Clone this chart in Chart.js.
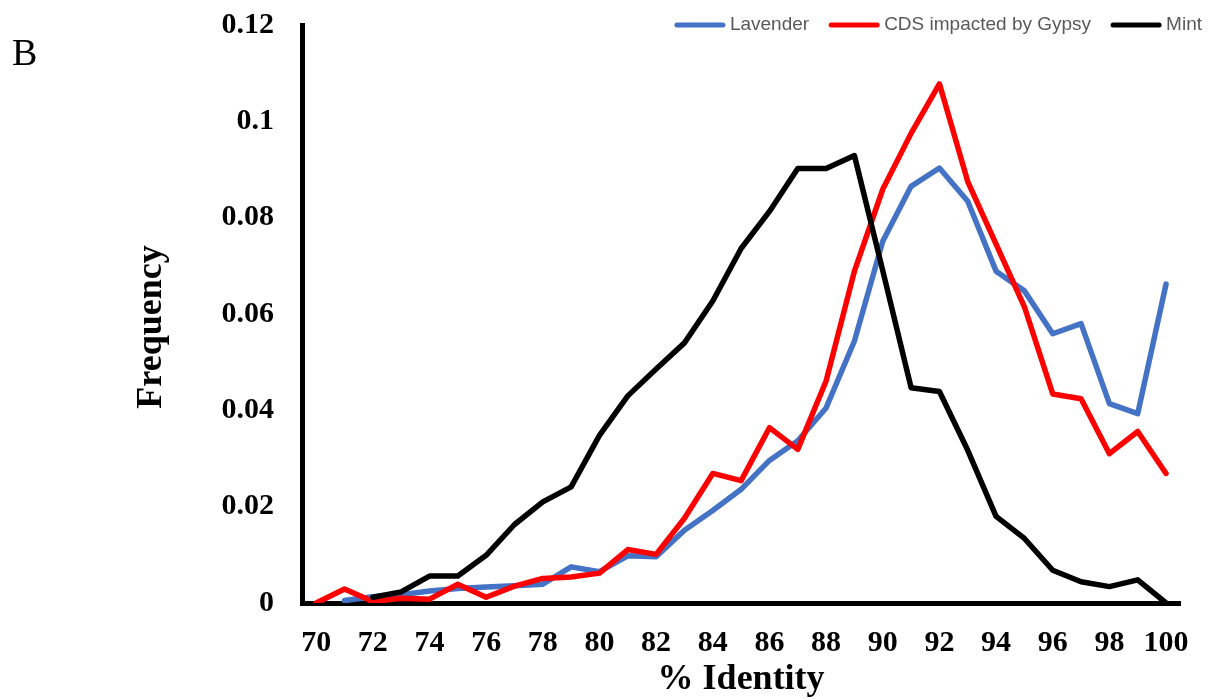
<!DOCTYPE html>
<html>
  <head>
    <title>Identity frequency</title>
    <style>
      body {
        background-color: white;
        margin: 0;
        padding: 0;
      }
    </style>
    <script src="https://cdn.jsdelivr.net/npm/chart.js"></script>
  </head>
  <body>
    <canvas id="identityChart" width="1211" height="700"></canvas>
    <script>
      // % identity categories (x axis)
      const identity = [70, 71, 72, 73, 74, 75, 76, 77, 78, 79, 80, 81, 82, 83, 84, 85,
                        86, 87, 88, 89, 90, 91, 92, 93, 94, 95, 96, 97, 98, 99, 100];

      // frequency values
      const lavender = [null, 0.0005, 0.0013, 0.0017, 0.0025, 0.003, 0.0033, 0.0036, 0.0039, 0.0075,
                        0.0065, 0.0098, 0.0096, 0.0151, 0.0192, 0.0236, 0.0296, 0.0337, 0.0405, 0.0544,
                        0.0751, 0.0865, 0.0903, 0.0834, 0.0689, 0.0648, 0.0559, 0.058, 0.0414, 0.0393, 0.0662];
      const cdsGypsy = [0, 0.0029, 0.0003, 0.001, 0.0008, 0.0039, 0.0012, 0.0035, 0.0051, 0.0054,
                        0.0062, 0.0111, 0.0101, 0.0176, 0.0269, 0.0254, 0.0364, 0.0319, 0.0461, 0.0689,
                        0.0859, 0.0975, 0.1078, 0.0875, 0.0745, 0.0615, 0.0434, 0.0424, 0.031, 0.0356, 0.0269];
      const mint = [null, null, 0.0012, 0.0023, 0.0056, 0.0056, 0.0099, 0.0163, 0.021, 0.0241,
                    0.0348, 0.043, 0.0486, 0.054, 0.0627, 0.0736, 0.0813, 0.0902, 0.0902, 0.0929,
                    0.069, 0.0447, 0.0439, 0.0317, 0.018, 0.0134, 0.0068, 0.0044, 0.0034, 0.0048, 0];

      const yTicks = [0, 0.02, 0.04, 0.06, 0.08, 0.1, 0.12];

      const serif = "'Liberation Serif', 'Times New Roman', serif";

      // axis titles, panel letter and the legend drawn on top
      const extrasPlugin = {
        id: "extras",
        afterDraw(chart) {
          const ctx = chart.ctx;
          const area = chart.chartArea;
          ctx.save();
          ctx.fillStyle = "#000";

          ctx.font = "38px " + serif;
          ctx.textAlign = "left";
          ctx.textBaseline = "alphabetic";
          ctx.fillText("B", 12, 65);

          ctx.font = "bold 36px " + serif;
          ctx.textAlign = "center";
          ctx.textBaseline = "middle";
          ctx.fillText("% Identity", (area.left + area.right) / 2, 680);

          ctx.translate(152, 327);
          ctx.rotate(-Math.PI / 2);
          ctx.fillText("Frequency", 0, 0);
          ctx.restore();

          // legend, right aligned
          ctx.save();
          ctx.font = "19px 'Liberation Sans', Arial, sans-serif";
          ctx.textBaseline = "middle";
          ctx.textAlign = "left";
          const sets = chart.data.datasets;
          const lineLen = 50, gap = 5, spacing = 20, y = 25;
          let total = 0;
          sets.forEach((ds, i) => {
            total += lineLen + gap + ctx.measureText(ds.label).width;
            if (i < sets.length - 1) total += spacing;
          });
          let x = 1202 - total;
          sets.forEach(ds => {
            ctx.strokeStyle = ds.borderColor;
            ctx.lineWidth = 5;
            ctx.lineCap = "round";
            ctx.beginPath();
            ctx.moveTo(x + 2, y);
            ctx.lineTo(x + lineLen - 2, y);
            ctx.stroke();
            x += lineLen + gap;
            ctx.fillStyle = "#595959";
            ctx.fillText(ds.label, x, y);
            x += ctx.measureText(ds.label).width + spacing;
          });
          ctx.restore();
        }
      };

      const lineStyle = {
        borderWidth: 5.5,
        pointRadius: 0,
        tension: 0,
        fill: false,
        borderJoinStyle: "round",
        borderCapStyle: "round",
        spanGaps: false
      };

      new Chart(document.getElementById("identityChart"), {
        type: "line",
        data: {
          labels: identity,
          datasets: [
            Object.assign({ label: "Lavender", data: lavender, borderColor: "#4472C4", order: 2 }, lineStyle),
            Object.assign({ label: "CDS impacted by Gypsy", data: cdsGypsy, borderColor: "#FF0000", order: 1 }, lineStyle),
            Object.assign({ label: "Mint", data: mint, borderColor: "#000000", order: 0 }, lineStyle)
          ]
        },
        options: {
          responsive: false,
          animation: false,
          layout: {
            padding: { top: 25, right: 28, bottom: 0, left: 0 }
          },
          plugins: {
            legend: { display: false },
            tooltip: { enabled: false }
          },
          scales: {
            x: {
              type: "category",
              offset: true,
              grid: { display: false, drawTicks: false },
              border: { display: true, color: "#000", width: 5 },
              ticks: {
                autoSkip: false,
                maxRotation: 0,
                padding: 22,
                color: "#000",
                font: { family: serif, size: 30, weight: "bold" },
                callback: function (value, index) {
                  const lab = identity[index];
                  return lab % 2 === 0 ? String(lab) : "";
                }
              },
              afterFit: function (scale) {
                scale.height = 97;
              }
            },
            y: {
              min: 0,
              max: 0.12,
              grid: { display: false, drawTicks: false },
              border: { display: true, color: "#000", width: 5 },
              afterBuildTicks: function (scale) {
                scale.ticks = yTicks.map(v => ({ value: v }));
              },
              ticks: {
                padding: 28,
                color: "#000",
                font: { family: serif, size: 30, weight: "bold" },
                callback: function (value) {
                  return String(Number(value.toFixed(2)));
                }
              },
              afterFit: function (scale) {
                scale.width = 302;
                scale.paddingTop = 0;
                scale.paddingBottom = 0;
              }
            }
          }
        },
        plugins: [extrasPlugin]
      });
    </script>
  </body>
</html>
